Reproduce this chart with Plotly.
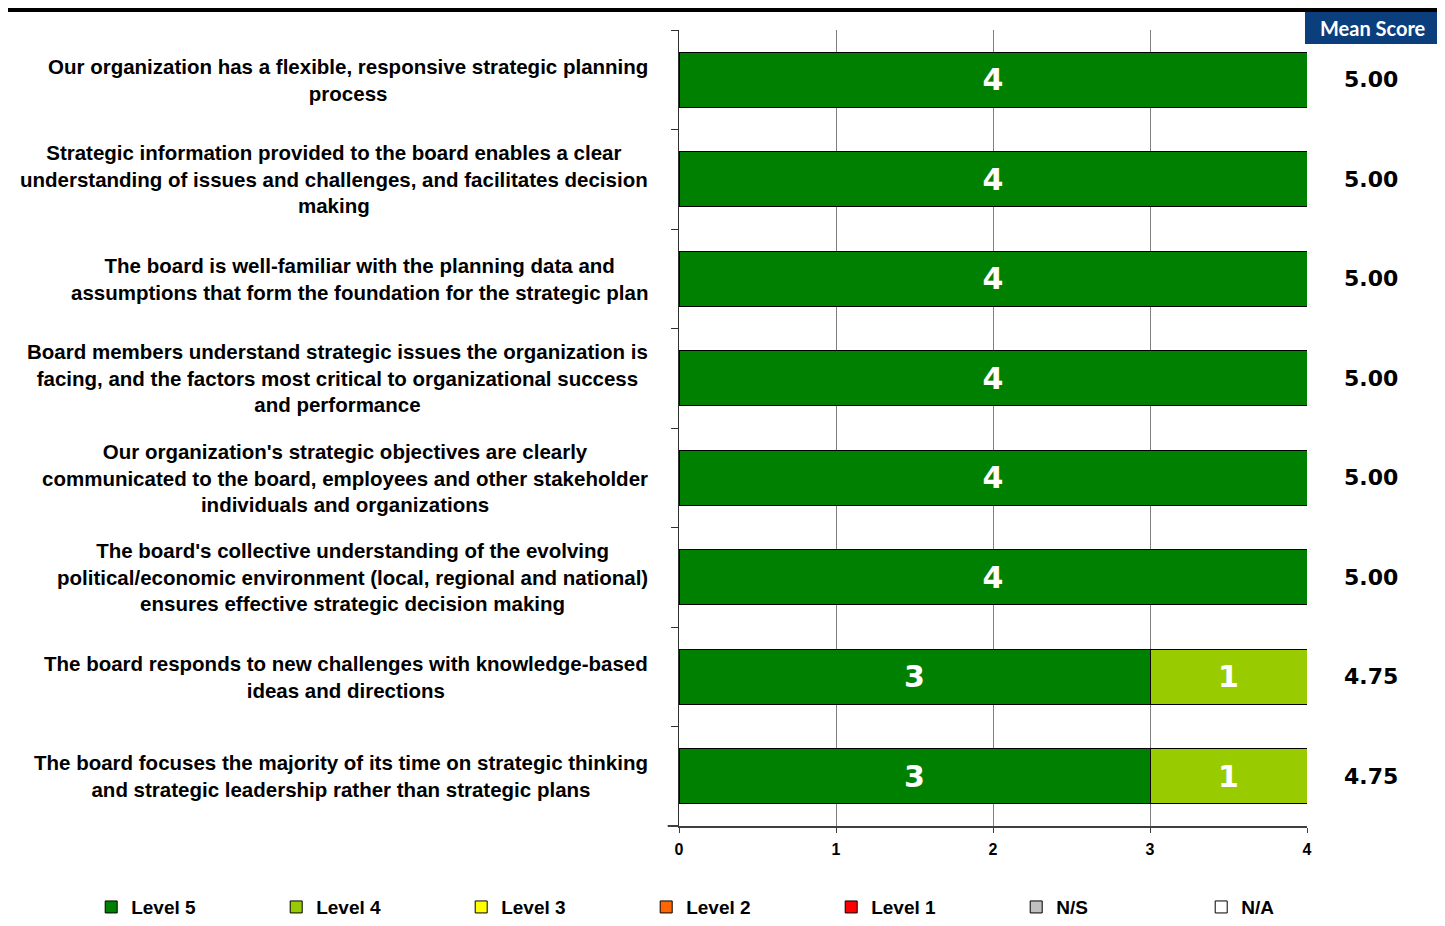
import plotly.graph_objects as go

# Survey statements (top to bottom)
statements = [
    "Our organization has a flexible, responsive strategic planning<br>process",
    "Strategic information provided to the board enables a clear<br>understanding of issues and challenges, and facilitates decision<br>making",
    "The board is well-familiar with the planning data and<br>assumptions that form the foundation for the strategic plan",
    "Board members understand strategic issues the organization is<br>facing, and the factors most critical to organizational success<br>and performance",
    "Our organization's strategic objectives are clearly<br>communicated to the board, employees and other stakeholder<br>individuals and organizations",
    "The board's collective understanding of the evolving<br>political/economic environment (local, regional and national)<br>ensures effective strategic decision making",
    "The board responds to new challenges with knowledge-based<br>ideas and directions",
    "The board focuses the majority of its time on strategic thinking<br>and strategic leadership rather than strategic plans",
]
cat_ids = [f"q{i}" for i in range(len(statements))]

level5 = [4, 4, 4, 4, 4, 4, 3, 3]
level4 = [None, None, None, None, None, None, 1, 1]
mean_scores = [5.00, 5.00, 5.00, 5.00, 5.00, 5.00, 4.75, 4.75]

legend_names = ["Level 5", "Level 4", "Level 3", "Level 2", "Level 1", "N/S", "N/A"]
legend_colors = ["#008000", "#99cc00", "#ffff00", "#ff6600", "#ff0000", "#c0c0c0", "#ffffff"]
x_ticks = [0, 1, 2, 3, 4]

SANS = "Liberation Sans, Arial, sans-serif"
VERD = "DejaVu Sans, Verdana, sans-serif"

series = {"Level 5": level5, "Level 4": level4}

fig = go.Figure()
for name, color in zip(legend_names, legend_colors):
    vals = series.get(name, [None] * len(cat_ids))
    fig.add_trace(go.Bar(
        y=cat_ids, x=vals, name=name, orientation="h",
        marker=dict(color=color, line=dict(color="black", width=1)),
        text=[str(v) if v else "" for v in vals],
        textposition="inside", insidetextanchor="middle",
        textfont=dict(family=VERD, size=30, color="white", weight="bold"),
        cliponaxis=False,
    ))

# statement labels
for cid, txt in zip(cat_ids, statements):
    fig.add_annotation(
        x=-0.0462, xref="paper", y=cid, yref="y", text=txt,
        showarrow=False, xanchor="right", yanchor="middle", align="center",
        font=dict(family=SANS, size=20.5, color="black", weight="bold"),
    )

# mean score column
for cid, m in zip(cat_ids, mean_scores):
    fig.add_annotation(
        x=1.102, xref="paper", y=cid, yref="y", text=f"{m:.2f}",
        showarrow=False, xanchor="center", yanchor="middle",
        font=dict(family=VERD, size=22, color="black", weight="bold"),
    )

fig.add_shape(type="rect", xref="paper", yref="paper",
              x0=0.9968, x1=1.2118, y0=0.9824, y1=1.0226,
              fillcolor="#0a3e7c", line=dict(width=0))
fig.add_annotation(x=1.1043, xref="paper", y=1.0025, yref="paper",
                   text="Mean Score", showarrow=False,
                   xanchor="center", yanchor="middle",
                   font=dict(family="Lato, Open Sans, sans-serif", size=20,
                             color="white", weight="bold"))

# top rule
fig.add_shape(type="line", xref="paper", yref="paper",
              x0=-1.07, x1=1.2118, y0=1.0251, y1=1.0251,
              line=dict(color="black", width=4))
# x axis line extension to the left
fig.add_shape(type="line", xref="paper", yref="paper",
              x0=-0.018, x1=0, y0=0, y1=0,
              line=dict(color="#404040", width=2))

fig.update_layout(
    width=1437, height=918,
    barmode="stack", bargap=0.45,
    plot_bgcolor="white", paper_bgcolor="white",
    margin=dict(l=671, r=138, t=22, b=100, autoexpand=False),
    showlegend=True,
    legend=dict(
        orientation="h", x=-0.936, xanchor="left",
        y=-0.078, yanchor="top",
        entrywidth=140, entrywidthmode="pixels",
        font=dict(family=SANS, size=19, color="black", weight="bold"),
        traceorder="normal", itemclick=False,
    ),
    xaxis=dict(
        range=[0, 4], tickvals=x_ticks, ticktext=[str(t) for t in x_ticks],
        showgrid=True, gridcolor="#808080", gridwidth=1,
        zeroline=False, showline=True, linecolor="#404040", linewidth=2,
        ticks="outside", ticklen=5, tickcolor="#404040",
        ticklabelstandoff=3,
        tickfont=dict(family=SANS, size=16, color="black", weight="bold"),
    ),
    yaxis=dict(
        categoryorder="array", categoryarray=cat_ids, autorange="reversed",
        showticklabels=False, showgrid=False, zeroline=False,
        showline=True, linecolor="#303030", linewidth=1,
        ticks="outside", ticklen=7, tickcolor="#303030", tickson="boundaries",
    ),
)

fig.write_html("out.html")
